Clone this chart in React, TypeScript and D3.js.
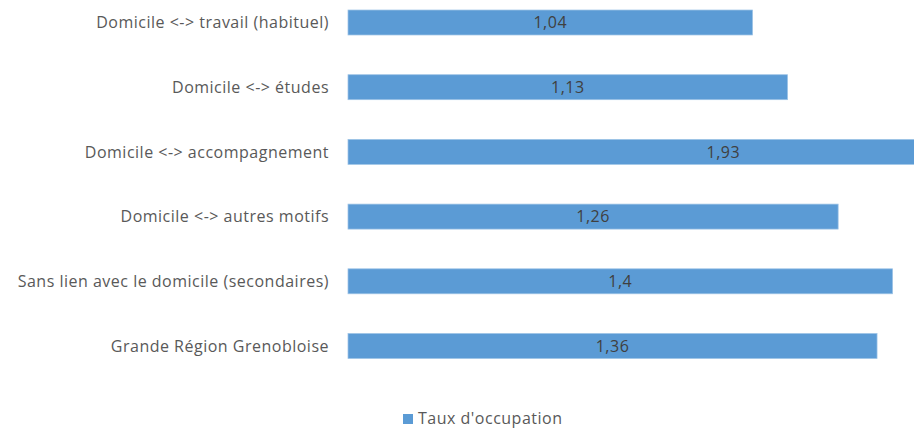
import React from "react";
import * as d3 from "d3";

const categories = [
  "Domicile <-> travail (habituel)",
  "Domicile <-> études",
  "Domicile <-> accompagnement",
  "Domicile <-> autres motifs",
  "Sans lien avec le domicile (secondaires)",
  "Grande Région Grenobloise",
];
const values = [1.04, 1.13, 1.93, 1.26, 1.4, 1.36];
const seriesName = "Taux d'occupation";

const W = 914;
const H = 429;
const FONT = "'Open Sans', 'Liberation Sans', sans-serif";
const FS = 16;
const LS = 0.5;

export default function App() {
  const x = d3.scaleLinear().domain([0, 1]).range([348, 737]);
  const y = d3
    .scaleBand<string>()
    .domain(categories)
    .range([-9.85, 378.35])
    .paddingInner(0.614)
    .paddingOuter(0.307);
  const fmt = (v: number) => String(v).replace(".", ",");
  return (
    <svg
      width={W}
      height={H}
      style={{ position: "absolute", left: 0, top: 0, display: "block", background: "#fff" }}
    >
      {categories.map((c, i) => {
        const y0 = y(c)!;
        const bw = y.bandwidth();
        const x1 = x(values[i]);
        return (
          <g key={c}>
            <rect
              x={x(0)}
              y={y0}
              width={x1 - x(0)}
              height={bw}
              fill="#5B9BD5"
              stroke="#9DC3E6"
              strokeWidth={0.75}
            />
            <text
              x={(x(0) + x1) / 2}
              y={y0 + bw / 2}
              dy="0.35em"
              textAnchor="middle"
              fontFamily={FONT}
              fontSize={FS}
              letterSpacing={LS}
              fill="#404040"
            >
              {fmt(values[i])}
            </text>
            <text
              x={329}
              y={y0 + bw / 2}
              dy="0.35em"
              textAnchor="end"
              fontFamily={FONT}
              fontSize={FS}
              letterSpacing={LS}
              fill="#595959"
            >
              {c}
            </text>
          </g>
        );
      })}
      <rect x={403} y={414} width={10} height={10} fill="#5B9BD5" />
      <text x={418} y={418.5} dy="0.35em" fontFamily={FONT} fontSize={FS} letterSpacing={LS} fill="#595959">
        {seriesName}
      </text>
    </svg>
  );
}
